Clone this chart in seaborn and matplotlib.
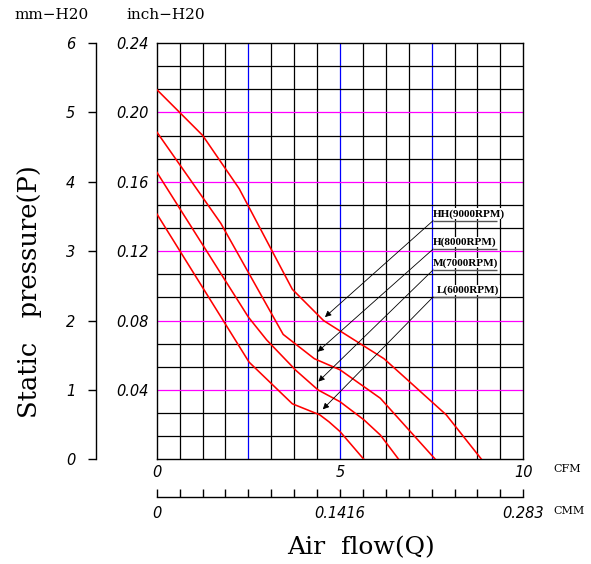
import numpy as np
import pandas as pd
import matplotlib
matplotlib.use("Agg")
import matplotlib.pyplot as plt
import seaborn as sns

# ---- data (airflow in CFM, static pressure in mm-H2O) ----
hh_flow = [0, 1.25, 2.25, 3.7, 4.55, 6.2, 7.9, 8.86]
hh_pres = [5.33, 4.67, 3.9, 2.45, 2.0, 1.45, 0.64, 0]
h_flow = [0, 1.75, 3.45, 4.3, 5.0, 6.1, 7.6]
h_pres = [4.72, 3.40, 1.80, 1.45, 1.29, 0.88, 0]
m_flow = [0, 2.5, 3.0, 3.8, 4.4, 5.0, 5.65, 6.1, 6.6]
m_pres = [4.14, 2.05, 1.72, 1.28, 1.0, 0.83, 0.57, 0.35, 0]
l_flow = [0, 2.52, 3.7, 4.45, 4.7, 5.0, 5.65]
l_pres = [3.54, 1.40, 0.80, 0.64, 0.54, 0.40, 0]

series_names = ["HH(9000RPM)", "H(8000RPM)", "M(7000RPM)", "L(6000RPM)"]
mm_ticks = [0, 1, 2, 3, 4, 5, 6]
mm_labels = ["0", "1", "2", "3", "4", "5", "6"]
inch_ticks = [1, 2, 3, 4, 5, 6]
inch_labels = ["0.04", "0.08", "0.12", "0.16", "0.20", "0.24"]
cfm_ticks = [0, 5, 10]
cfm_labels = ["0", "5", "10"]
cmm_labels = ["0", "0.1416", "0.283"]

rows = []
for name, fx, fy in zip(series_names, [hh_flow, h_flow, m_flow, l_flow],
                        [hh_pres, h_pres, m_pres, l_pres]):
    for i, (a, b) in enumerate(zip(fx, fy)):
        rows.append({"series": name, "order": i, "flow": a, "pressure": b})
df = pd.DataFrame(rows)

W, H = 591, 564
fig = plt.figure(figsize=(W / 100, H / 100), dpi=100)
L0, R0, B0, T0 = 156.7, 523.3, 459.3, 43.0
ax = fig.add_axes([L0 / W, (H - B0) / H, (R0 - L0) / W, (B0 - T0) / H])
ax.set_xlim(0, 10)
ax.set_ylim(0, 6)

# grid
for xv in np.arange(0.625, 10, 0.625):
    col = "#0000ff" if abs(xv % 2.5) < 1e-6 else "black"
    ax.axvline(xv, color=col, lw=0.9, zorder=1)
for k in range(1, 18):
    yv = k / 3.0
    col = "#ff00ff" if k % 3 == 0 else "black"
    ax.axhline(yv, color=col, lw=0.9, zorder=1)

sns.lineplot(data=df, x="flow", y="pressure", hue="series", units="series",
             estimator=None, sort=False, palette=["#ff0000"] * 4,
             lw=1.15, legend=False, ax=ax, zorder=3)

for sp in ax.spines.values():
    sp.set_color("black")
    sp.set_linewidth(1.0)

tickfont = dict(family="DejaVu Sans", style="italic", size=10.5)
ax.set_yticks(inch_ticks)
ax.set_yticklabels(inch_labels, **tickfont)
ax.tick_params(axis="y", length=0, pad=6)
ax.set_xticks(cfm_ticks)
ax.set_xticklabels(cfm_labels, **tickfont)
ax.tick_params(axis="x", length=0, pad=4)
ax.set_xlabel("")
ax.set_ylabel("")

# mm axis (outer left)
sec_y = ax.secondary_yaxis(-(L0 - 96) / (R0 - L0))
sec_y.set_yticks(mm_ticks)
sec_y.set_yticklabels(mm_labels, **tickfont)
sec_y.tick_params(length=5.8, width=1.0, pad=9, direction="out")
sec_y.spines["left"].set_linewidth(1.0)

# CMM axis (below)
sec_x = ax.secondary_xaxis(-(496.7 - B0) / (B0 - T0))
cmm_pos = np.arange(0, 10.01, 0.625)
sec_x.set_xticks(cmm_pos)
sec_x.set_xticklabels([cmm_labels[cfm_ticks.index(v)] if v in cfm_ticks else "" for v in cmm_pos], **tickfont)
sec_x.tick_params(length=5.8, width=1.0, direction="in", pad=7)
sec_x.spines["bottom"].set_linewidth(1.0)

serif = "DejaVu Serif"
fig.text(52 / W, 1 - 15 / H, "mm\u2212H20", family=serif, size=11, ha="center", va="center")
fig.text(166 / W, 1 - 15 / H, "inch\u2212H20", family=serif, size=11, ha="center", va="center")
fig.text(553 / W, 1 - 469 / H, "CFM", family=serif, size=8, ha="left", va="center")
fig.text(553 / W, 1 - 511 / H, "CMM", family=serif, size=8, ha="left", va="center")
fig.text(361 / W, 1 - 548 / H, "Air  flow(Q)", family=serif, size=18, ha="center", va="center")
fig.text(30 / W, 1 - 292 / H, "Static   pressure(P)", family=serif, size=18.5, ha="center",
         va="center", rotation=90)

# labels with leaders
lab_y = [3.44, 3.03, 2.73, 2.34]
heads = [(4.59, 2.05), (4.39, 1.55), (4.41, 1.12), (4.53, 0.72)]
x0 = 7.54
for name, ly, hd in zip(series_names, lab_y, heads):
    ax.plot([x0, 9.28], [ly, ly], color="#555555", lw=1.0, zorder=4, solid_capstyle="butt")
    ax.text(x0 + (0.1 if name.startswith("L") else 0.0), ly + 0.03, name,
            family="Liberation Serif", weight="bold", size=8, ha="left", va="bottom",
            zorder=5, bbox=dict(facecolor="white", edgecolor="none", pad=0.3))
    ax.annotate("", xy=hd, xytext=(x0, ly),
                arrowprops=dict(arrowstyle="-|>", lw=0.6, color="black",
                                mutation_scale=9, shrinkA=0, shrinkB=0), zorder=5)

fig.savefig("out.png", dpi=100)
